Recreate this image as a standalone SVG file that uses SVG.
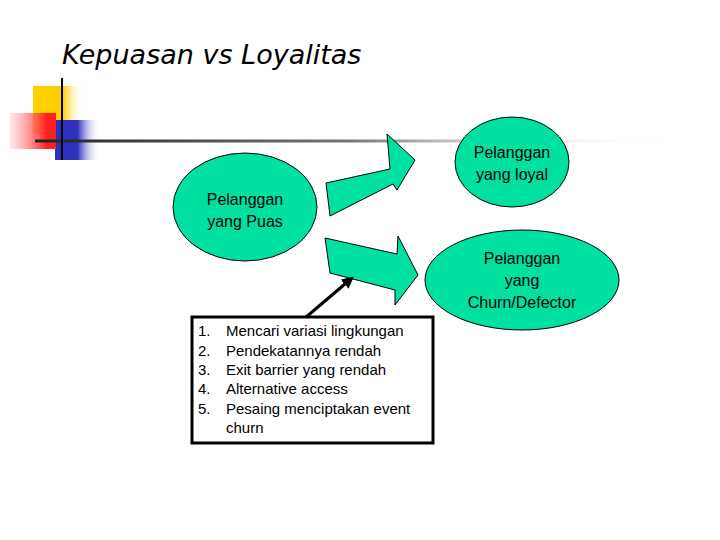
<svg xmlns="http://www.w3.org/2000/svg" width="720" height="540" viewBox="0 0 720 540">
<defs>
<style>
.n{fill:#00e0a0;stroke:#000;stroke-width:1}
.t{font-family:"Liberation Sans",Arial,sans-serif;font-size:16px;fill:#000;text-anchor:middle}
.l{font-family:"Liberation Sans",Arial,sans-serif;font-size:15px;fill:#000}
</style>
<linearGradient id="hl" x1="0" x2="1"><stop offset="0" stop-color="#222"/><stop offset="0.5" stop-color="#777"/><stop offset="1" stop-color="#fff" stop-opacity="0"/></linearGradient>
<linearGradient id="yg" x1="0" x2="1"><stop offset="0.6" stop-color="#ffd000"/><stop offset="1" stop-color="#fff" stop-opacity="0"/></linearGradient>
<linearGradient id="bg" x1="0" x2="1"><stop offset="0.5" stop-color="#3030c0"/><stop offset="1" stop-color="#fff" stop-opacity="0"/></linearGradient>
<linearGradient id="rg" x1="1" x2="0"><stop offset="0.2" stop-color="#ff2020"/><stop offset="1" stop-color="#ffd0d0" stop-opacity="0.5"/></linearGradient>
<marker id="ah" viewBox="0 0 10 10" refX="8" refY="5" markerWidth="4" markerHeight="4" orient="auto"><path d="M0,0L10,5L0,10z" fill="#000"/></marker>
</defs>
<rect width="720" height="540" fill="#fff"/>
<g id="deco">
<rect x="33" y="86" width="50" height="48" fill="url(#yg)"/>
<rect x="55" y="120" width="45" height="40" fill="url(#bg)"/>
<rect x="10" y="113" width="46" height="36" fill="url(#rg)"/>
<rect x="35" y="139.5" width="630" height="3" fill="url(#hl)"/>
<line x1="62" y1="78" x2="62" y2="160" stroke="#000" stroke-width="2"/>
</g>
<text x="62" y="64" font-family="DejaVu Sans,Liberation Sans,sans-serif" font-style="italic" font-size="27" fill="#000">Kepuasan vs Loyalitas</text>
<g id="connectors">
<path class="n" d="M326,183 L390,169 L387,134 L415,160 L397,190 L393,184 L330,216 Z"/>
<path class="n" d="M325,238 L397,254 L398,236 L418,275 L395,305 L395,290 L330,273 Z"/>
<line x1="305" y1="318" x2="352" y2="278" stroke="#000" stroke-width="3" marker-end="url(#ah)"/>
</g>
<g id="loyal"><ellipse class="n" cx="512" cy="162" rx="57" ry="45"/><text class="t" x="512" y="158">Pelanggan</text><text class="t" x="512" y="180">yang loyal</text></g>
<g id="puas"><ellipse class="n" cx="245" cy="207" rx="72" ry="54"/><text class="t" x="245" y="205">Pelanggan</text><text class="t" x="245" y="227">yang Puas</text></g>
<g id="churn"><ellipse class="n" cx="522" cy="280" rx="97" ry="50"/><text class="t" x="522" y="264">Pelanggan</text><text class="t" x="522" y="286">yang</text><text class="t" x="522" y="308">Churn/Defector</text></g>
<g id="box">
<rect x="192" y="317" width="241" height="126" fill="#fff" stroke="#000" stroke-width="3"/>
<g class="l">
<text x="198" y="336">1.</text><text x="226" y="336">Mencari variasi lingkungan</text>
<text x="198" y="356">2.</text><text x="226" y="356">Pendekatannya rendah</text>
<text x="198" y="375">3.</text><text x="226" y="375">Exit barrier yang rendah</text>
<text x="198" y="394">4.</text><text x="226" y="394">Alternative access</text>
<text x="198" y="414">5.</text><text x="226" y="414">Pesaing menciptakan event</text>
<text x="226" y="433">churn</text>
</g>
</g>
</svg>
